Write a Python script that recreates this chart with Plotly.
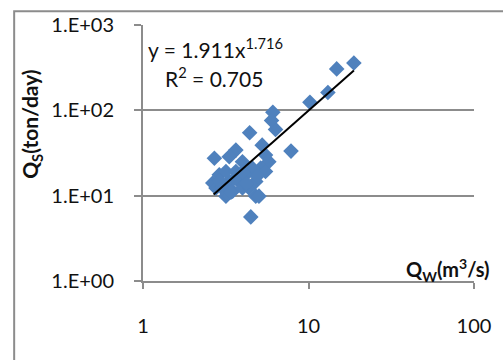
import plotly.graph_objects as go

# Observed data (discharge Qw in m3/s, sediment load Qs in ton/day)
qw = [18.8, 14.8, 13.1, 10.2, 6.09, 6.32, 5.98, 7.84, 4.41, 2.70, 4.48, 4.80,
      3.64, 3.32, 3.99, 5.25, 5.50, 5.76, 5.14, 4.58, 4.18, 3.81, 3.32, 2.89,
      2.64, 2.76, 3.17, 3.48, 3.99, 4.37, 4.80, 5.50, 3.17, 3.64, 5.02, 3.23,
      3.0, 3.6, 4.2, 3.4, 4.0, 4.9, 2.9]
qs = [359, 306, 162, 124, 94.8, 59.8, 76, 33.3, 54.7, 27.4, 5.64, 9.87,
      34.2, 28.6, 25.0, 39.1, 29.9, 25.0, 21.0, 21.0, 17.6, 14.7, 14.7, 17.6,
      14.1, 12.3, 9.87, 11.3, 12.3, 12.3, 14.7, 19.2, 19.2, 19.2, 9.87, 10.5,
      12.5, 16.0, 14.0, 11.0, 19.0, 17.0, 15.0]

# Power trendline y = a * x^b
coef_a = 1.911
coef_b = 1.716
trend_x = [min(qw) + 0.03, max(qw)]
trend_y = [coef_a * v ** coef_b for v in trend_x]

y_tickvals = [1, 10, 100, 1000]
y_ticktext = ["1.E+00", "1.E+01", "1.E+02", "1.E+03"]
x_tickvals = [1, 10, 100]
x_ticktext = ["1", "10", "100"]

FONT = "Lato"
GRAY = "#8c8c8c"
TXT = "#111"

fig = go.Figure()
fig.add_trace(go.Scatter(
    x=qw, y=qs, mode="markers",
    marker=dict(symbol="diamond", size=12, color="#4F81BD", line=dict(width=0)),
    showlegend=False, hoverinfo="skip"))
fig.add_trace(go.Scatter(
    x=trend_x, y=trend_y, mode="lines",
    line=dict(color="black", width=2), showlegend=False, hoverinfo="skip"))

fig.update_layout(
    width=503, height=360,
    margin=dict(l=143, r=26, t=22, b=79),
    paper_bgcolor="white", plot_bgcolor="white",
    font=dict(family=FONT, size=16, color=TXT),
    xaxis=dict(type="log", range=[0, 2], tickvals=x_tickvals, ticktext=x_ticktext,
               showgrid=False, zeroline=False, showline=True, linecolor=GRAY, linewidth=2,
               ticks="outside", ticklen=6, tickcolor=GRAY, tickwidth=2,
               ticklabelstandoff=20, tickfont=dict(family=FONT, size=20, color=TXT)),
    yaxis=dict(type="log", range=[0, 3], tickvals=y_tickvals, ticktext=y_ticktext,
               showgrid=True, gridcolor=GRAY, gridwidth=2, zeroline=False,
               showline=True, linecolor=GRAY, linewidth=2,
               ticks="outside", ticklen=7, tickcolor=GRAY, tickwidth=2,
               ticklabelstandoff=16, tickfont=dict(family=FONT, size=20, color=TXT)),
)

# outer chart border
fig.add_shape(type="rect", xref="paper", yref="paper",
              x0=(13 - 143) / 334, x1=(520 - 143) / 334,
              y0=(281 - 380) / 259, y1=(281 - 8) / 259,
              line=dict(color=GRAY, width=2), fillcolor="rgba(0,0,0,0)", layer="below")

fig.add_annotation(xref="paper", yref="paper", x=(146 - 143) / 334, y=(281 - 45) / 259,
                   text="y = 1.911x<sup>1.716</sup>", showarrow=False, xanchor="left",
                   yanchor="middle", font=dict(family=FONT, size=21, color=TXT))
fig.add_annotation(xref="paper", yref="paper", x=(163 - 143) / 334, y=(281 - 75) / 259,
                   text="R<sup>2</sup> = 0.705", showarrow=False, xanchor="left",
                   yanchor="middle", font=dict(family=FONT, size=21, color=TXT))
fig.add_annotation(xref="paper", yref="paper", x=(30 - 143) / 334, y=(281 - 122) / 259,
                   text="<b>Q<sub>S</sub>(ton/day)</b>", showarrow=False, textangle=-90,
                   xanchor="center", yanchor="middle", font=dict(family=FONT, size=21, color=TXT))
fig.add_annotation(xref="paper", yref="paper", x=(495 - 143) / 334, y=(281 - 270) / 259,
                   text="<b>Q<sub>W</sub>(m<sup>3</sup>/s)</b>", showarrow=False,
                   xanchor="right", yanchor="middle", font=dict(family=FONT, size=20, color=TXT))

fig.write_html("out.html")
